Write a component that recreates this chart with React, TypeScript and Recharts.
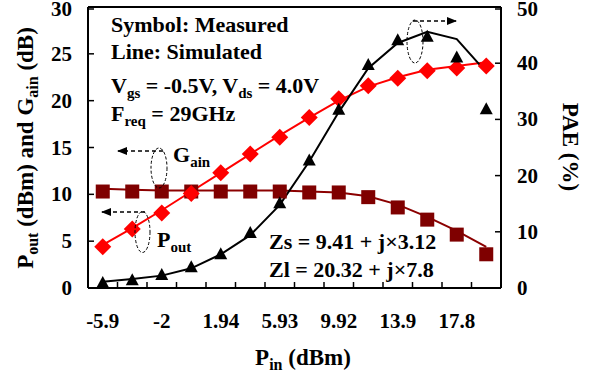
import { ComposedChart, Line, XAxis, YAxis, ReferenceLine } from "recharts";

// Pin sweep (dBm), only every other one is printed on the axis
const pinLabels = ["-5.9", "-3.9", "-2", "-0.03", "1.94", "3.94", "5.93", "7.93", "9.92", "11.9", "13.9", "15.9", "17.8", "19.8"];

const gainMeasured = [4.4, 6.3, 8.0, 10.1, 12.3, 14.3, 16.1, 18.2, 20.2, 21.6, 22.4, 23.2, 23.5, 23.7];
const gainSimulated = [4.6, 6.4, 8.3, 10.3, 12.3, 14.3, 16.3, 18.2, 20.0, 21.5, 22.5, 23.3, 23.7, 24.1];

const poutMeasured = [10.3, 10.3, 10.3, 10.3, 10.3, 10.3, 10.3, 10.2, 10.2, 9.7, 8.6, 7.3, 5.7, 3.6];
const poutSimulated = [10.6, 10.5, 10.4, 10.4, 10.4, 10.4, 10.4, 10.3, 10.2, 9.8, 8.9, 7.6, 6.1, 4.4];

const paeMeasured = [0.9, 1.4, 2.3, 3.7, 6.0, 9.8, 15.1, 22.7, 31.7, 39.7, 44.1, 44.7, 41.0, 31.8];
const paeSimulated = [1.1, 1.6, 2.2, 3.5, 6.0, 9.4, 14.8, 22.5, 31.3, 39.1, 43.6, 45.6, 44.3, 38.4];

const leftTicks = [0, 5, 10, 15, 20, 25, 30];
const rightTicks = [0, 10, 20, 30, 40, 50];

const rows = pinLabels.map((pin, i) => ({
  pin,
  gainM: gainMeasured[i],
  gainS: gainSimulated[i],
  poutM: poutMeasured[i],
  poutS: poutSimulated[i],
  paeM: paeMeasured[i],
  paeS: paeSimulated[i],
}));

const FONT = "Liberation Serif";
const STEP = 413 / 14;
const txt = { fontFamily: FONT, fontWeight: 700, fill: "#000" };

const XTick = (props: any) => {
  const { x, y, payload, index } = props;
  return (
    <g>
      <line x1={x - STEP / 2} x2={x - STEP / 2} y1={y} y2={y - 6} stroke="#000" strokeWidth={1.5} />
      {index % 2 === 0 && (
        <text x={x} y={y + 40} textAnchor="middle" style={{ ...txt, fontSize: 21 }}>
          {payload.value}
        </text>
      )}
    </g>
  );
};

const LeftTick = (props: any) => {
  const { x, y, payload } = props;
  return (
    <g>
      <line x1={x} x2={x + 6} y1={y} y2={y} stroke="#000" strokeWidth={1.5} />
      <text x={x - 16} y={y + 7} textAnchor="end" style={{ ...txt, fontSize: 21 }}>
        {payload.value}
      </text>
    </g>
  );
};

const RightTick = (props: any) => {
  const { x, y, payload } = props;
  return (
    <g>
      <line x1={x} x2={x - 6} y1={y} y2={y} stroke="#000" strokeWidth={1.5} />
      <text x={x + 16} y={y + 7} textAnchor="start" style={{ ...txt, fontSize: 21 }}>
        {payload.value}
      </text>
    </g>
  );
};

const Diamond = (props: any) => {
  const { cx, cy, index } = props;
  if (cx == null || cy == null) return <g key={index} />;
  return <path key={index} d={`M${cx},${cy - 8.5}L${cx + 8.5},${cy}L${cx},${cy + 8.5}L${cx - 8.5},${cy}Z`} fill="#ff0000" />;
};

const Square = (props: any) => {
  const { cx, cy, index } = props;
  if (cx == null || cy == null) return <g key={index} />;
  return <rect key={index} x={cx - 7} y={cy - 7} width={14} height={14} fill="#7f0000" />;
};

const Triangle = (props: any) => {
  const { cx, cy, index } = props;
  if (cx == null || cy == null) return <g key={index} />;
  return <path key={index} d={`M${cx},${cy - 7}L${cx + 6.5},${cy + 5}L${cx - 6.5},${cy + 5}Z`} fill="#000" />;
};

function Annotations() {
  const t = { ...txt, fontSize: 22 };
  const sub = { fontSize: 15 };
  return (
    <svg width={591} height={378} style={{ position: "absolute", left: 0, top: 0, pointerEvents: "none" }}>
      <defs>
        <marker id="arr" markerWidth="10" markerHeight="8" refX="9" refY="4" orient="auto" markerUnits="userSpaceOnUse">
          <path d="M0,0L10,4L0,8Z" fill="#000" />
        </marker>
      </defs>

      <text x={111} y={32} style={t}>Symbol: Measured</text>
      <text x={111} y={59} style={t}>Line: Simulated</text>
      <text x={111} y={93} style={t}>
        V<tspan dy={5} style={sub}>gs</tspan>
        <tspan dy={-5}> = -0.5V, V</tspan>
        <tspan dy={5} style={sub}>ds</tspan>
        <tspan dy={-5}> = 4.0V</tspan>
      </text>
      <text x={111} y={121} style={t}>
        F<tspan dy={5} style={sub}>req</tspan>
        <tspan dy={-5}> = 29GHz</tspan>
      </text>

      <text x={173} y={162} style={t}>
        G<tspan dy={5} style={sub}>ain</tspan>
      </text>
      <text x={157} y={247} style={t}>
        P<tspan dy={5} style={sub}>out</tspan>
      </text>

      <text x={269} y={249} style={t}>Zs = 9.41 + j×3.12</text>
      <text x={269} y={277} style={t}>Zl = 20.32 + j×7.8</text>

      {/* dashed pointers */}
      <ellipse cx={159} cy={168} rx={8} ry={20} fill="none" stroke="#000" strokeDasharray="3 2" strokeWidth={1} />
      <line x1={163} y1={151} x2={118} y2={151} stroke="#000" strokeDasharray="4 3" strokeWidth={1.3} markerEnd="url(#arr)" />

      <ellipse cx={142.5} cy={232} rx={7.5} ry={20.5} fill="none" stroke="#000" strokeDasharray="3 2" strokeWidth={1} />
      <line x1={145} y1={212} x2={102} y2={212} stroke="#000" strokeDasharray="4 3" strokeWidth={1.3} markerEnd="url(#arr)" />

      <ellipse cx={415} cy={41.5} rx={8} ry={21.5} fill="none" stroke="#000" strokeDasharray="3 2" strokeWidth={1} />
      <line x1={413} y1={21} x2={456} y2={21} stroke="#000" strokeDasharray="4 3" strokeWidth={1.3} markerEnd="url(#arr)" />

      {/* axis titles */}
      <text transform="translate(33,148) rotate(-90)" textAnchor="middle" style={{ ...txt, fontSize: 23 }}>
        P<tspan dy={5} style={{ fontSize: 16 }}>out</tspan>
        <tspan dy={-5}> (dBm) and G</tspan>
        <tspan dy={5} style={{ fontSize: 16 }}>ain</tspan>
        <tspan dy={-5}> (dB)</tspan>
      </text>
      <text transform="translate(563,147) rotate(90)" textAnchor="middle" style={{ ...txt, fontSize: 23 }}>PAE (%)</text>
      <text x={303} y={365} textAnchor="middle" style={{ ...txt, fontSize: 23 }}>
        P<tspan dy={5} style={{ fontSize: 16 }}>in</tspan>
        <tspan dy={-5}> (dBm)</tspan>
      </text>
    </svg>
  );
}

export default function App() {
  return (
    <div style={{ position: "absolute", left: 0, top: 0, width: 591, height: 378, background: "#fff" }}>
      <ComposedChart width={591} height={378} data={rows} margin={{ top: 7, right: 0, bottom: 0, left: 0 }}>
        <XAxis
          dataKey="pin"
          type="category"
          interval={0}
          padding={{ left: STEP / 2, right: STEP / 2 }}
          height={90}
          tickSize={0}
          tickMargin={0}
          tickLine={false}
          axisLine={{ stroke: "#000", strokeWidth: 2 }}
          tick={<XTick />}
        />
        <YAxis
          yAxisId="left"
          domain={[0, 30]}
          ticks={leftTicks}
          width={88}
          tickSize={0}
          tickMargin={0}
          tickLine={false}
          axisLine={{ stroke: "#000", strokeWidth: 2 }}
          tick={<LeftTick />}
        />
        <YAxis
          yAxisId="right"
          orientation="right"
          domain={[0, 50]}
          ticks={rightTicks}
          width={90}
          tickSize={0}
          tickMargin={0}
          tickLine={false}
          axisLine={{ stroke: "#000", strokeWidth: 2 }}
          tick={<RightTick />}
        />
        <ReferenceLine yAxisId="left" y={30} stroke="#000" strokeWidth={2} />

        <Line yAxisId="left" dataKey="poutS" stroke="#8b0000" strokeWidth={2} dot={false} isAnimationActive={false} />
        <Line yAxisId="left" dataKey="gainS" stroke="#ff0000" strokeWidth={2} dot={false} isAnimationActive={false} />
        <Line yAxisId="right" dataKey="paeS" stroke="#000" strokeWidth={2} dot={false} isAnimationActive={false} />
        <Line yAxisId="left" dataKey="poutM" stroke="none" dot={Square} activeDot={false} isAnimationActive={false} />
        <Line yAxisId="left" dataKey="gainM" stroke="none" dot={Diamond} activeDot={false} isAnimationActive={false} />
        <Line yAxisId="right" dataKey="paeM" stroke="none" dot={Triangle} activeDot={false} isAnimationActive={false} />
      </ComposedChart>
      <Annotations />
    </div>
  );
}
